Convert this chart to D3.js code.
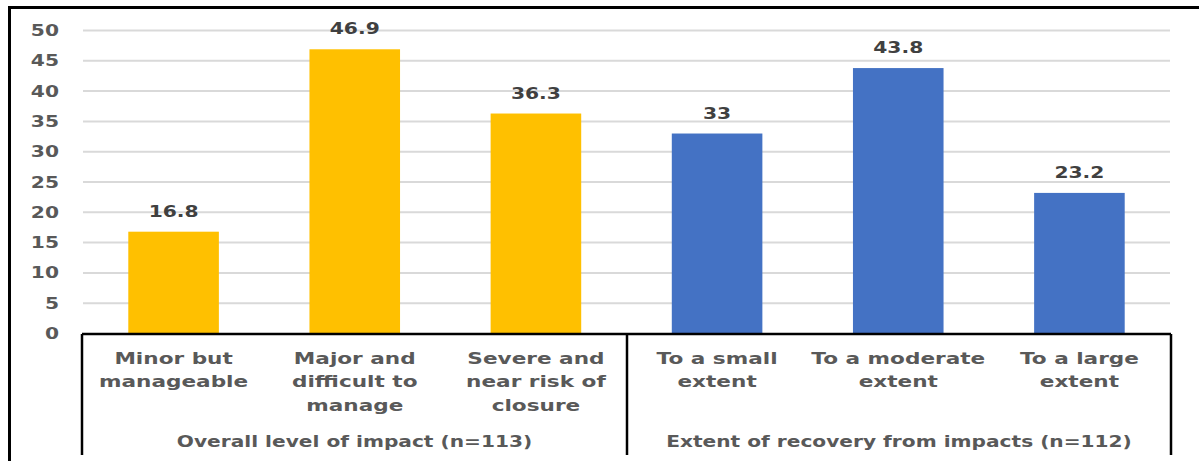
<!DOCTYPE html>
<html>
<head>
<meta charset="utf-8">
<script src="https://cdn.jsdelivr.net/npm/d3@7"></script>
<style>
  html, body { margin: 0; padding: 0; background: #fff; }
  svg { display: block; }
  text { font-family: "DejaVu Sans", Verdana, sans-serif; font-weight: bold; }
</style>
</head>
<body>
<svg id="chart" width="1199" height="461"></svg>
<script>
const categories = ["Minor but manageable", "Major and difficult to manage", "Severe and near risk of closure",
                    "To a small extent", "To a moderate extent", "To a large extent"];
const categoryLines = [["Minor but", "manageable"], ["Major and", "difficult to", "manage"], ["Severe and", "near risk of", "closure"],
                       ["To a small", "extent"], ["To a moderate", "extent"], ["To a large", "extent"]];
const values = [16.8, 46.9, 36.3, 33, 43.8, 23.2];
const valueLabels = ["16.8", "46.9", "36.3", "33", "43.8", "23.2"];
const groups = ["Overall level of impact (n=113)", "Extent of recovery from impacts (n=112)"];
const groupOf = [0, 0, 0, 1, 1, 1];
const groupColors = ["#FFC000", "#4472C4"];
const yTicks = [0, 5, 10, 15, 20, 25, 30, 35, 40, 45, 50];

const SX = 1.35;   // horizontal text stretch seen in the reference
const SXG = 1.26;  // group labels are slightly narrower
const svg = d3.select("#chart");

const x = d3.scaleBand().domain(categories).range([83, 1170]).paddingInner(0.5).paddingOuter(0.25);
const y = d3.scaleLinear().domain([0, 50]).range([333.5, 30.5]);

// outer border (top and left visible)
svg.append("line").attr("x1", 9.5).attr("x2", 1210).attr("y1", 7.5).attr("y2", 7.5)
  .attr("stroke", "#000").attr("stroke-width", 3);
svg.append("line").attr("x1", 9.5).attr("x2", 9.5).attr("y1", 6).attr("y2", 470)
  .attr("stroke", "#000").attr("stroke-width", 3);

// gridlines
svg.append("g").selectAll("line").data(yTicks.filter(d => d > 0)).join("line")
  .attr("x1", 83).attr("x2", 1170)
  .attr("y1", d => y(d)).attr("y2", d => y(d))
  .attr("stroke", "#D9D9D9").attr("stroke-width", 2);

// y tick labels
svg.append("g").selectAll("g").data(yTicks).join("g")
  .attr("transform", d => `translate(59,${y(d) + 5.5}) scale(${SX},1)`)
  .append("text")
  .attr("text-anchor", "end")
  .attr("font-size", 15)
  .attr("fill", "#595959")
  .text(d => d);

// bars
svg.append("g").selectAll("rect").data(categories).join("rect")
  .attr("x", d => x(d))
  .attr("width", x.bandwidth())
  .attr("y", (d, i) => y(values[i]))
  .attr("height", (d, i) => y(0) - y(values[i]))
  .attr("fill", (d, i) => groupColors[groupOf[i]]);

// data labels
svg.append("g").selectAll("g").data(categories).join("g")
  .attr("transform", (d, i) => `translate(${x(d) + x.bandwidth() / 2},${y(values[i]) - 15}) scale(${SX},1)`)
  .append("text")
  .attr("text-anchor", "middle")
  .attr("font-size", 15)
  .attr("fill", "#404040")
  .text((d, i) => valueLabels[i]);

// category axis box
const boxTop = 334, boxBottom = 455;
const boxLeft = 82, boxDiv = 627, boxRight = 1171;
const axisG = svg.append("g").attr("stroke", "#000").attr("stroke-width", 2.5);
axisG.append("line").attr("x1", boxLeft).attr("x2", boxRight).attr("y1", boxTop).attr("y2", boxTop);
[boxLeft, boxDiv, boxRight].forEach(xx => {
  axisG.append("line").attr("x1", xx).attr("x2", xx).attr("y1", boxTop).attr("y2", boxBottom);
});

// category labels
const catG = svg.append("g").selectAll("g").data(categories).join("g")
  .attr("transform", d => `translate(${x(d) + x.bandwidth() / 2},364) scale(${SX},1)`);
catG.append("text")
  .attr("text-anchor", "middle")
  .attr("font-size", 16)
  .attr("fill", "#595959")
  .selectAll("tspan").data((d, i) => categoryLines[i]).join("tspan")
  .attr("x", 0)
  .attr("y", (d, j) => j * 23.5)
  .text(d => d);

// group labels
const groupCenters = [(boxLeft + boxDiv) / 2, (boxDiv + boxRight) / 2];
svg.append("g").selectAll("g").data(groups).join("g")
  .attr("transform", (d, i) => `translate(${groupCenters[i]},446.5) scale(${SXG},1)`)
  .append("text")
  .attr("text-anchor", "middle")
  .attr("font-size", 16)
  .attr("fill", "#595959")
  .text(d => d);
</script>
</body>
</html>
